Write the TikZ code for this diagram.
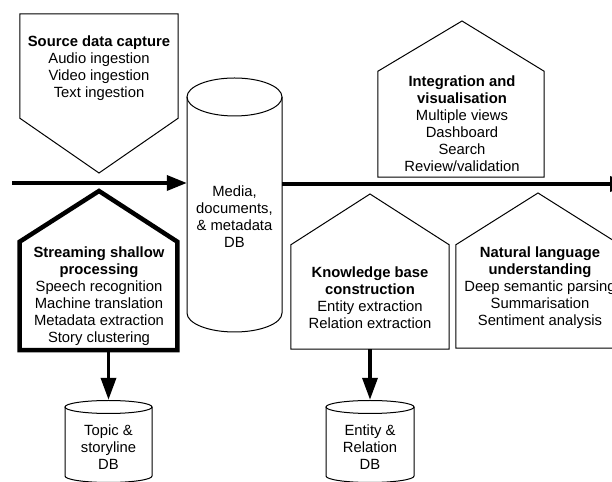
\documentclass[tikz,border=0pt]{standalone}
\usepackage{fontspec}
\setmainfont{Liberation Sans}
\usetikzlibrary{arrows.meta}
\begin{document}
\begin{tikzpicture}[x=1bp,y=1bp,
  txt/.style={align=center,font=\fontsize{14.8bp}{17bp}\selectfont,inner sep=0pt},
  body/.style={txt,minimum width=#1},
  penta/.style={draw=black,line width=1bp,line join=miter},
  heavy/.style={draw=black,line width=4.5bp,line join=miter},
  cyl/.style={draw=black,line width=1bp},
  flow/.style={line width=3.5bp,-{Triangle[length=20bp,width=15bp]}},
  down/.style={line width=3.5bp,-{Triangle[length=22bp,width=15bp]}},
]
\useasboundingbox (0,0) rectangle (612,482);
\clip (0,0) rectangle (612,482);
\fill[white] (0,0) rectangle (612,482);

% Source data capture (pointing down)
\node[body=158bp,minimum height=104bp] (src) at (99,416) {};
\draw[penta] (src.south west) -- (src.north west) -- (src.north east) -- (src.south east) -- (99,309) -- cycle;
\node[txt] (srct) at (99,414) {\bfseries Source data capture\\Audio ingestion\\Video ingestion\\Text ingestion};

% Streaming shallow processing (thick, pointing up)
\node[body=157.5bp,minimum height=108bp] (ssp) at (98.5,186) {};
\draw[heavy] (ssp.south west) -- (ssp.north west) -- (99,291) -- (ssp.north east) -- (ssp.south east) -- cycle;
\node[txt] (sspt) at (99,186) {\bfseries Streaming shallow\\\bfseries processing\\Speech recognition\\Machine translation\\Metadata extraction\\Story clustering};

% Main DB cylinder
\draw[cyl] (187,385) -- (187,169) arc[start angle=180,end angle=360,x radius=47.5,y radius=19] -- (282,385);
\draw[cyl] (234.5,385) ellipse[x radius=47.5,y radius=19];
\node[body=95bp] (mdb) at (234.5,265) {Media,\\documents,\\\& metadata\\DB};

% Integration and visualisation
\node[body=166bp,minimum height=105.5bp] (iv) at (461,357.75) {};
\draw[penta] (iv.south west) -- (iv.north west) -- (462,461) -- (iv.north east) -- (iv.south east) -- cycle;
\node[txt] (ivt) at (462,358) {\bfseries Integration and\\\bfseries visualisation\\Multiple views\\Dashboard\\Search\\Review/validation};

% Knowledge base construction
\node[body=158bp,minimum height=104bp] (kb) at (370,185) {};
\draw[penta] (kb.south west) -- (kb.north west) -- (370,288) -- (kb.north east) -- (kb.south east) -- cycle;
\node[txt] (kbt) at (370,184.5) {\bfseries Knowledge base\\\bfseries construction\\Entity extraction\\Relation extraction};

% Natural language understanding
\node[body=164bp,minimum height=103bp] (nlu) at (538,185.5) {};
\draw[penta] (nlu.south west) -- (nlu.north west) -- (538,289) -- (nlu.north east) -- (nlu.south east) -- cycle;
\node[txt] (nlut) at (540,194) {\bfseries Natural language\\\bfseries understanding\\Deep semantic parsing\\Summarisation\\Sentiment analysis};

% Topic & storyline DB
\draw[cyl] (65,75) -- (65,6) arc[start angle=180,end angle=360,x radius=43.5,y radius=6.5] -- (152,75);
\draw[cyl] (108.5,75) ellipse[x radius=43.5,y radius=6.5];
\node[body=87bp,minimum height=94bp] (tdb) at (108.5,35) {Topic \&\\storyline\\DB};

% Entity & Relation DB
\draw[cyl] (326,75) -- (326,6) arc[start angle=180,end angle=360,x radius=44,y radius=6.5] -- (414,75);
\draw[cyl] (370,75) ellipse[x radius=44,y radius=6.5];
\node[body=88bp,minimum height=94bp] (edb) at (370,35) {Entity \&\\Relation\\DB};

% Connectors
\coordinate (in) at (12,299);
\coordinate (out) at (630,298);
\draw[flow] (in) -- (mdb.west |- in);
\draw[flow] (mdb.east |- out) -- (out);
\draw[down] (tdb.north |- ssp.south) -- (tdb.north);
\draw[down] (kb.south) -- (edb.north);
\end{tikzpicture}
\end{document}
